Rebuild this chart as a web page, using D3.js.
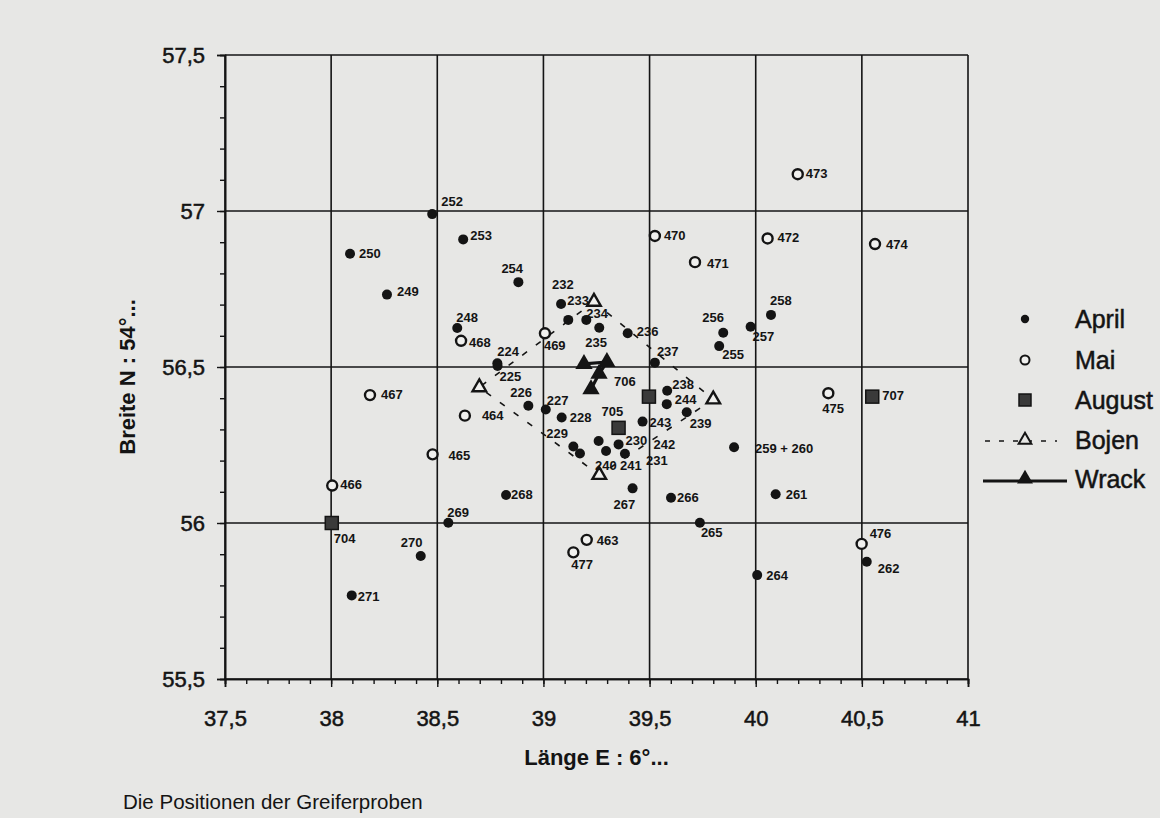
<!DOCTYPE html>
<html>
<head>
<meta charset="utf-8">
<script src="https://cdn.jsdelivr.net/npm/d3@7"></script>
<style>
  html, body { margin: 0; padding: 0; background: #e7e7e5; }
  svg { display: block; font-family: "Liberation Sans", Arial, Helvetica, sans-serif; }
</style>
</head>
<body>
<svg id="chart" width="1160" height="818"></svg>
<script>
// Sampling positions (longitude E 6°..., latitude N 54°...) with station numbers
const april = [
  ["224", 38.783, 56.512], ["225", 38.784, 56.503], ["226", 38.929, 56.376],
  ["227", 39.011, 56.364], ["228", 39.086, 56.338], ["229", 39.141, 56.245],
  ["230", 39.354, 56.252], ["231", 39.384, 56.222], ["232", 39.083, 56.702],
  ["233", 39.117, 56.651], ["234", 39.202, 56.651], ["235", 39.263, 56.626],
  ["236", 39.397, 56.608], ["237", 39.525, 56.514], ["238", 39.583, 56.424],
  ["239", 39.675, 56.355], ["240", 39.172, 56.223], ["241", 39.295, 56.231],
  ["242", 39.260, 56.263], ["243", 39.467, 56.325], ["244", 39.581, 56.381],
  ["248", 38.594, 56.625], ["249", 38.263, 56.732], ["250", 38.089, 56.863],
  ["252", 38.476, 56.990], ["253", 38.622, 56.909], ["254", 38.882, 56.772],
  ["255", 39.828, 56.567], ["256", 39.847, 56.610], ["257", 39.976, 56.629],
  ["258", 40.072, 56.667], ["259 + 260", 39.898, 56.243], ["261", 40.094, 56.092],
  ["262", 40.523, 55.876], ["264", 40.007, 55.833], ["265", 39.737, 56.001],
  ["266", 39.601, 56.081], ["267", 39.420, 56.111], ["268", 38.824, 56.090],
  ["269", 38.552, 56.001], ["270", 38.422, 55.894], ["271", 38.097, 55.768]
];
const mai = [
  ["463", 39.204, 55.946], ["464", 38.630, 56.344], ["465", 38.478, 56.220],
  ["466", 38.005, 56.120], ["467", 38.183, 56.410], ["468", 38.612, 56.584],
  ["469", 39.007, 56.608], ["470", 39.525, 56.920], ["471", 39.714, 56.836],
  ["472", 40.056, 56.912], ["473", 40.198, 57.118], ["474", 40.562, 56.894],
  ["475", 40.342, 56.416], ["476", 40.499, 55.933], ["477", 39.141, 55.906]
];
const august = [
  ["704", 38.003, 56.000], ["705", 39.354, 56.305],
  ["706", 39.497, 56.405], ["707", 40.549, 56.405]
];
// Buoys, joined in order as a closed dashed outline
const bojen = [
  [39.238, 56.709], [39.800, 56.396], [39.263, 56.154], [38.698, 56.435]
];
// Wreck markers, joined by a solid line
const wrack = [
  [39.191, 56.510], [39.299, 56.516], [39.262, 56.478], [39.224, 56.429]
];
const lonTicks = [37.5, 38, 38.5, 39, 39.5, 40, 40.5, 41];
const latTicks = [55.5, 56, 56.5, 57, 57.5];
const legendItems = ["April", "Mai", "August", "Bojen", "Wrack"];

// Label placement relative to each marker (text start, baseline)
const labelOffset = {
  "224": [0, -7], "225": [2, 15], "226": [-18, -9], "227": [1, -4], "228": [8, 4],
  "229": [-27, -9], "230": [7, 1], "231": [21, 11], "232": [-9, -15], "233": [-1, -15],
  "234": [0, -1.5], "235": [-14, 19], "236": [9, 3], "237": [2, -7], "238": [5, -2],
  "239": [3, 16], "240": [15, 17], "241": [14, 19], "242": [55, 8], "243": [7, 5],
  "244": [8, 0], "248": [-1, -6], "249": [10, 1], "250": [9, 4], "252": [9, -8],
  "253": [7, 1], "254": [-17, -9], "255": [3, 13], "256": [-21, -11], "257": [2, 14],
  "258": [-1, -10], "259 + 260": [21, 6], "261": [10, 5], "262": [11, 11], "264": [9, 5],
  "265": [1, 14], "266": [6, 4], "267": [-19, 21], "268": [5, 4], "269": [-1, -6],
  "270": [-20, -9], "271": [6, 6],
  "463": [10, 5], "464": [17, 4], "465": [16, 6], "466": [8, 3], "467": [11, 4],
  "468": [8, 6], "469": [-1, 17], "470": [9, 4], "471": [12, 6], "472": [10, 4],
  "473": [8, 4], "474": [11, 5], "475": [-6, 20], "476": [8, -6], "477": [-2, 17],
  "704": [2, 20], "705": [-17, -12], "706": [-35, -11], "707": [10, 3]
};

const svg = d3.select("#chart");
const ink = "#141414";
const x = d3.scaleLinear().domain([37.5, 41]).range([225, 968]);
const y = d3.scaleLinear().domain([55.5, 57.5]).range([679, 55]);
const comma = d => String(d).replace(".", ",");

// grid
const grid = svg.append("g").attr("stroke", ink).attr("stroke-width", 1.6);
grid.selectAll("line.v").data(lonTicks).join("line")
  .attr("x1", d => x(d)).attr("x2", d => x(d))
  .attr("y1", y(55.5)).attr("y2", y(57.5));
grid.selectAll("line.h").data(latTicks).join("line")
  .attr("y1", d => y(d)).attr("y2", d => y(d))
  .attr("x1", x(37.5)).attr("x2", x(41));

// axes
const minorLat = d3.range(55.5, 57.5001, 0.1).map(v => +v.toFixed(1));
const minorLon = d3.range(37.5, 41.0001, 0.1).map(v => +v.toFixed(1));

function styleAxis(g) {
  g.select(".domain").attr("stroke", ink).attr("stroke-width", 1.6);
  g.selectAll(".tick line").attr("stroke", ink).attr("stroke-width", 1.4);
  g.selectAll(".tick text").attr("fill", ink).attr("font-size", 22)
    .attr("stroke", ink).attr("stroke-width", 0.5)
    .attr("font-family", "'Liberation Sans', Arial, sans-serif");
}
svg.append("g").attr("transform", `translate(${x(37.5)},0)`)
  .call(d3.axisLeft(y).tickValues(minorLat).tickSize(5).tickFormat(""))
  .call(styleAxis);
svg.append("g").attr("transform", `translate(${x(37.5)},0)`)
  .call(d3.axisLeft(y).tickValues(latTicks).tickSize(8).tickPadding(12).tickFormat(comma))
  .call(styleAxis);
svg.append("g").attr("transform", `translate(0,${y(55.5)})`)
  .call(d3.axisBottom(x).tickValues(minorLon).tickSize(5).tickFormat(""))
  .call(styleAxis);
svg.append("g").attr("transform", `translate(0,${y(55.5)})`)
  .call(d3.axisBottom(x).tickValues(lonTicks).tickSize(8).tickPadding(23).tickFormat(comma))
  .call(styleAxis);

// axis titles and caption
svg.append("text")
  .attr("x", (x(37.5) + x(41)) / 2).attr("y", 765)
  .attr("text-anchor", "middle").attr("font-size", 22).attr("font-weight", "bold")
  .attr("fill", ink).text("Länge E : 6°...");
svg.append("text")
  .attr("transform", `translate(135,${(y(55.5) + y(57.5)) / 2 + 10}) rotate(-90)`)
  .attr("text-anchor", "middle").attr("font-size", 22).attr("font-weight", "bold")
  .attr("fill", ink).text("Breite N : 54°...");
svg.append("text")
  .attr("x", 123).attr("y", 809).attr("font-size", 20.5)
  .attr("fill", ink).text("Die Positionen der Greiferproben");

// buoys: dashed closed outline + open triangles
const line = d3.line().x(d => x(d[0])).y(d => y(d[1]));
svg.append("path")
  .attr("d", line(bojen.concat([bojen[0]])))
  .attr("fill", "none").attr("stroke", ink).attr("stroke-width", 1.6)
  .attr("stroke-dasharray", "6,11");
const tri = d3.symbol().type(d3.symbolTriangle);
svg.append("g").selectAll("path").data(bojen).join("path")
  .attr("d", tri.size(80)())
  .attr("transform", d => `translate(${x(d[0])},${y(d[1])})`)
  .attr("fill", "#f0f0ee").attr("stroke", ink).attr("stroke-width", 2.4);

// wreck: solid line + filled triangles
svg.append("path")
  .attr("d", line(wrack))
  .attr("fill", "none").attr("stroke", ink).attr("stroke-width", 3.2);
svg.append("g").selectAll("path").data(wrack).join("path")
  .attr("d", tri.size(130)())
  .attr("transform", d => `translate(${x(d[0])},${y(d[1])})`)
  .attr("fill", ink);

// April: filled dots
svg.append("g").selectAll("circle").data(april).join("circle")
  .attr("cx", d => x(d[1])).attr("cy", d => y(d[2])).attr("r", 5)
  .attr("fill", ink);
// Mai: open circles
svg.append("g").selectAll("circle").data(mai).join("circle")
  .attr("cx", d => x(d[1])).attr("cy", d => y(d[2])).attr("r", 5)
  .attr("fill", "#f0f0ee").attr("stroke", ink).attr("stroke-width", 2.4);
// August: dark squares
svg.append("g").selectAll("rect").data(august).join("rect")
  .attr("x", d => x(d[1]) - 6.5).attr("y", d => y(d[2]) - 6.5)
  .attr("width", 13).attr("height", 13)
  .attr("fill", "#3a3a3a").attr("stroke", ink).attr("stroke-width", 1.5);

// station labels
const allPts = april.concat(mai, august);
svg.append("g").selectAll("text").data(allPts).join("text")
  .attr("x", d => x(d[1]) + (labelOffset[d[0]] || [8, 4.5])[0])
  .attr("y", d => y(d[2]) + (labelOffset[d[0]] || [8, 4.5])[1])
  .attr("font-size", 13).attr("font-weight", "bold").attr("fill", ink)
  .text(d => d[0]);

// legend
const lg = svg.append("g");
const lgX = 1025, lgText = 1075;
const lgY = [319, 360, 400, 440, 479];
legendItems.forEach((name, i) => {
  const cy = lgY[i];
  if (name === "April") {
    lg.append("circle").attr("cx", lgX).attr("cy", cy).attr("r", 4.2).attr("fill", ink);
  } else if (name === "Mai") {
    lg.append("circle").attr("cx", lgX).attr("cy", cy).attr("r", 4.5)
      .attr("fill", "#f0f0ee").attr("stroke", ink).attr("stroke-width", 2);
  } else if (name === "August") {
    lg.append("rect").attr("x", lgX - 6).attr("y", cy - 6).attr("width", 12).attr("height", 12)
      .attr("fill", "#3a3a3a").attr("stroke", ink).attr("stroke-width", 1.5);
  } else if (name === "Bojen") {
    lg.append("line").attr("x1", 985).attr("x2", 1057).attr("y1", cy + 1).attr("y2", cy + 1)
      .attr("stroke", ink).attr("stroke-width", 1.6).attr("stroke-dasharray", "5,9");
    lg.append("path").attr("d", tri.size(70)()).attr("transform", `translate(${lgX},${cy})`)
      .attr("fill", "#e7e7e5").attr("stroke", ink).attr("stroke-width", 2);
  } else {
    lg.append("line").attr("x1", 983).attr("x2", 1067).attr("y1", cy + 2).attr("y2", cy + 2)
      .attr("stroke", ink).attr("stroke-width", 3.2);
    lg.append("path").attr("d", tri.size(110)()).attr("transform", `translate(${lgX},${cy})`)
      .attr("fill", ink);
  }
  lg.append("text").attr("x", lgText).attr("y", cy + 8.5)
    .attr("font-size", 25).attr("fill", ink)
    .attr("stroke", ink).attr("stroke-width", 0.5).text(name);
});
</script>
</body>
</html>
